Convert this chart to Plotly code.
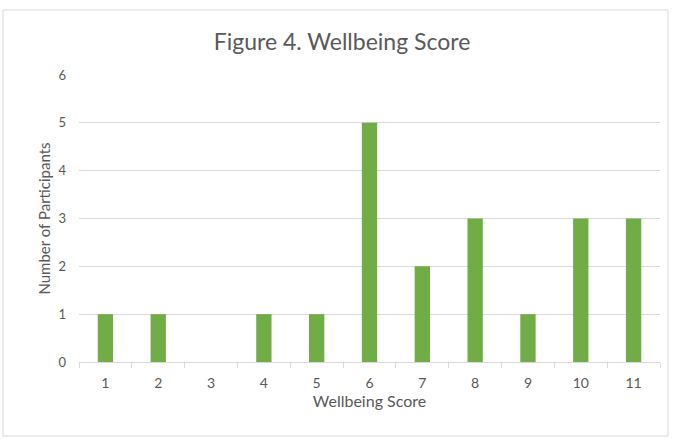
import plotly.graph_objects as go

categories = ["1", "2", "3", "4", "5", "6", "7", "8", "9", "10", "11"]
participants = [1, 1, 0, 1, 1, 5, 2, 3, 1, 3, 3]
y_ticks = [0, 1, 2, 3, 4, 5, 6]

W, H = 674, 439
L, R, T, B = 79, 14, 75, 77
pw, ph = W - L - R, H - T - B

def px_x(x):
    return (x - L) / pw

def px_y(y):
    return (H - B - y) / ph

fig = go.Figure(go.Bar(
    x=categories, y=participants,
    marker=dict(color="#70AD47", line=dict(width=0)),
))

fig.update_layout(
    width=W, height=H,
    margin=dict(l=L, r=R, t=T, b=B),
    paper_bgcolor="white", plot_bgcolor="white",
    bargap=0.71,
    showlegend=False,
    font=dict(family="Lato, Open Sans, sans-serif", color="#595959"),
    title=dict(text="Figure 4. Wellbeing Score", x=342 / W, xref="container", xanchor="center",
               y=1 - 42 / H, yref="container", yanchor="middle",
               font=dict(size=23, color="#595959")),
    xaxis=dict(
        type="category", showgrid=False,
        showline=True, linecolor="#D9D9D9", linewidth=1,
        ticks="outside", tickson="boundaries", ticklen=5, tickcolor="#D9D9D9",
        tickfont=dict(size=14, color="#595959"), ticklabelstandoff=8,
        title=dict(text="Wellbeing Score", font=dict(size=16, color="#595959"), standoff=2),
    ),
    yaxis=dict(
        range=[0, 6], tickvals=y_ticks,
        showgrid=True, gridcolor="#D9D9D9", gridwidth=1,
        zeroline=False, showline=False,
        tickfont=dict(size=13, color="#595959"), ticklabelstandoff=12,
        title=dict(text="Number of Participants", font=dict(size=15, color="#595959"), standoff=4),
    ),
    shapes=[dict(type="rect", xref="paper", yref="paper",
                 x0=px_x(3), x1=px_x(668), y0=px_y(436), y1=px_y(10),
                 line=dict(color="#D9D9D9", width=1), fillcolor="rgba(0,0,0,0)", layer="below")],
)

fig.write_html("out.html")
